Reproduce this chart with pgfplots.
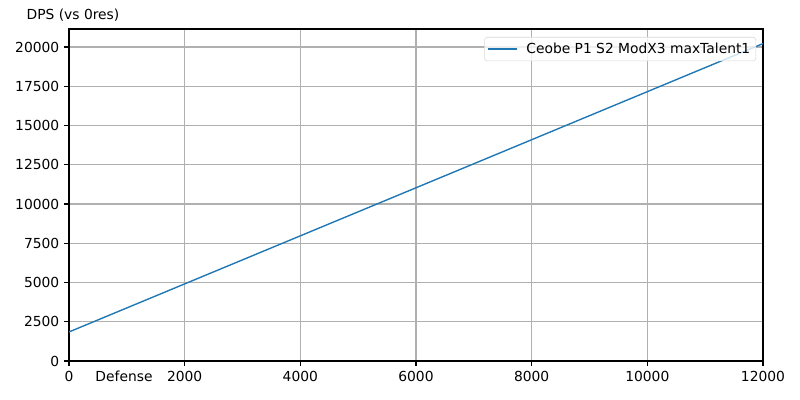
\documentclass[border=0pt]{standalone}
\usepackage{fontspec}
\setmainfont{DejaVu Sans}
\usepackage{pgfplots}
\pgfplotsset{compat=1.18}
\definecolor{mplblue}{HTML}{1F77B4}
\definecolor{mplgrid}{HTML}{B0B0B0}
\begin{document}
\begin{tikzpicture}
\begin{axis}[
  at={(0,0)}, anchor=south west,
  scale only axis,
  width=499.68bp, height=239.04bp,
  xmin=0, xmax=12000,
  ymin=0, ymax=21150,
  xtick={0,2000,...,12000},
  ytick={0,2500,...,20000},
  scaled ticks=false,
  /pgf/number format/1000 sep={},
  /pgf/number format/assume math mode=true,
  tick label style={font=\fontsize{10}{12}\selectfont},
  tick align=outside,
  major tick length=3.5bp,
  tick style={black, line width=0.8bp},
  xtick pos=bottom, ytick pos=left,
  axis line style={line width=0.8bp},
  grid=major,
  major grid style={mplgrid, line width=0.8bp},
  xlabel={Defense},
  ylabel={DPS (vs 0res)},
  every axis x label/.style={at={(rel axis cs:0,0)}, anchor=center, xshift=39.6bp, yshift=-11bp, font=\fontsize{10}{12}\selectfont},
  every axis y label/.style={at={(rel axis cs:0,1)}, anchor=west, xshift=-34bp, yshift=10bp, font=\fontsize{10}{12}\selectfont},
  legend style={at={(0.99,0.976)}, anchor=north east, draw=gray!30, rounded corners=2bp,
    fill=white, fill opacity=0.8, text opacity=1, font=\fontsize{10}{12}\selectfont,
    inner sep=2bp},
  legend cell align=left,
  legend image code/.code={\draw[#1, mplblue, line width=1.1bp] (0bp,0bp) -- (21bp,0bp);},
]
\addplot[mplblue, line width=1bp] coordinates {
  (0, 1850) (12000, 20220)
};
\addlegendentry{\hspace{4bp}Ceobe P1 S2 ModX3 maxTalent1}
\end{axis}
\path[use as bounding box] (-49.68bp,-28.08bp) rectangle (526.32bp,259.92bp);
\end{tikzpicture}
\end{document}
